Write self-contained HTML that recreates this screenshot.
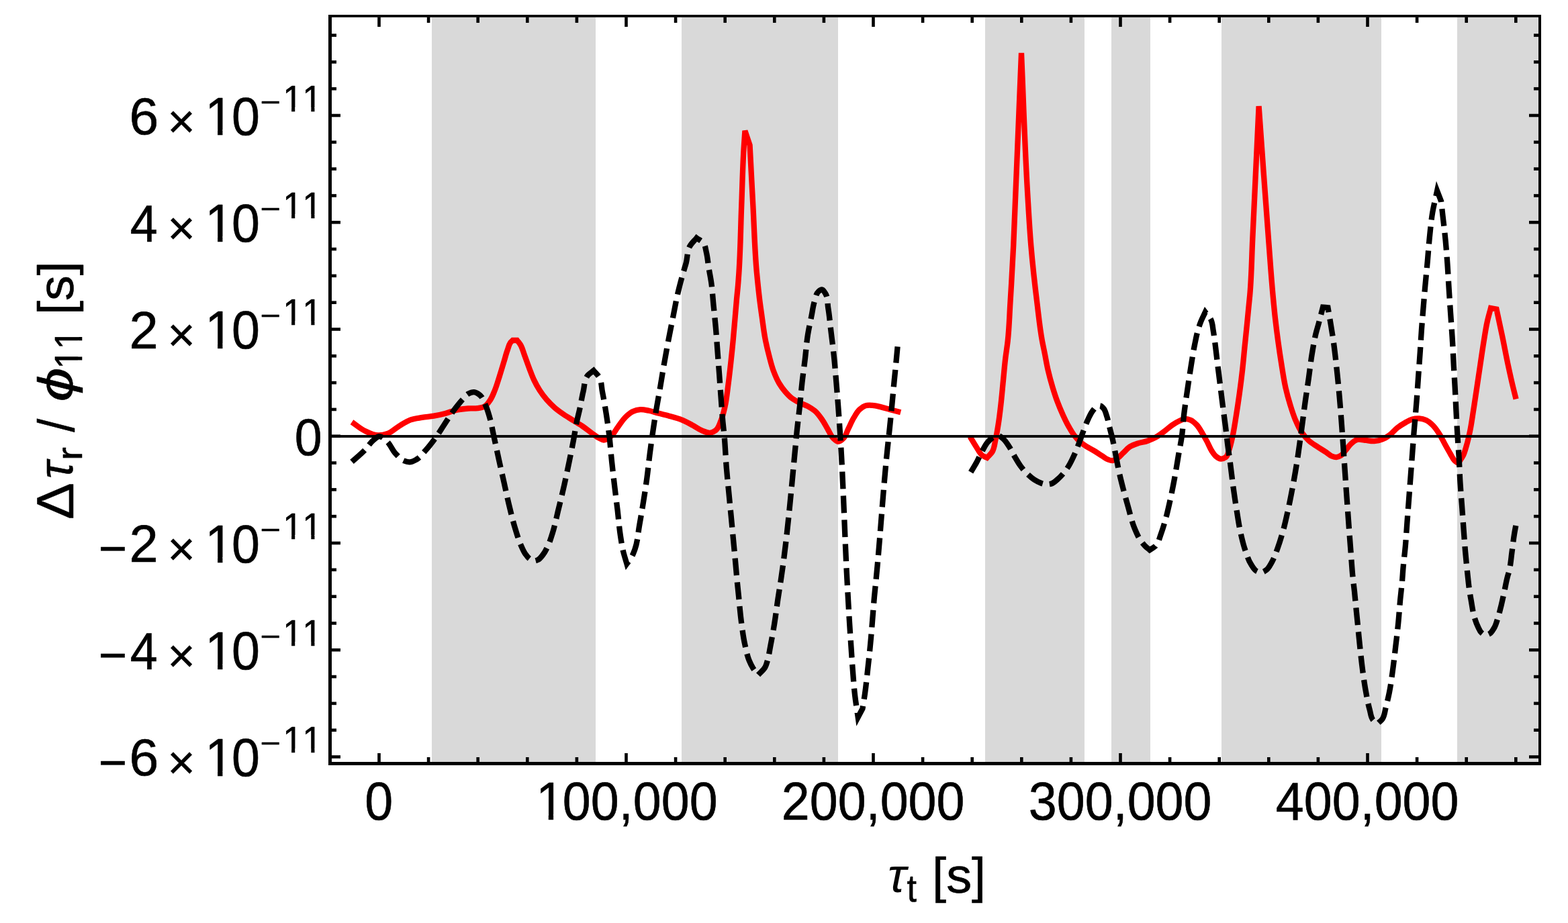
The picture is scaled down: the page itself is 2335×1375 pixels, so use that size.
<!DOCTYPE html>
<html lang="en"><head><meta charset="utf-8"><title>Plot</title>
<style>html,body{margin:0;padding:0;background:#fff}svg{display:block}text{font-family:"Liberation Sans",sans-serif;fill:#000;stroke:#000;stroke-linejoin:round;font-kerning:none;font-variant-ligatures:none}</style>
</head><body>
<svg width="2335" height="1375" viewBox="0 0 2335 1375">
<rect x="0" y="0" width="2335" height="1375" fill="#fff"/>
<g fill="#d9d9d9" shape-rendering="crispEdges">
<rect x="643.1" y="25.75" width="243.9" height="1109.25"/>
<rect x="1015.2" y="25.75" width="232.6" height="1109.25"/>
<rect x="1467.0" y="25.75" width="148.0" height="1109.25"/>
<rect x="1655.1" y="25.75" width="57.8" height="1109.25"/>
<rect x="1818.9" y="25.75" width="238.2" height="1109.25"/>
<rect x="2170.1" y="25.75" width="121.4" height="1109.25"/>
</g>
<g fill="none" stroke-linejoin="miter" stroke-linecap="butt">
<path d="M524.00 628.70C530.30 633.00 536.06 638.23 542.90 641.60C549.40 644.80 556.26 648.42 563.50 648.50C568.15 648.55 572.83 647.47 577.20 645.90C583.64 643.59 588.53 638.21 594.40 634.70C599.98 631.36 605.37 627.47 611.50 625.30C617.01 623.35 622.93 622.85 628.70 621.90C634.41 620.96 640.20 620.59 645.90 619.60C651.65 618.60 657.35 617.36 663.00 615.90C668.80 614.40 674.34 611.94 680.20 610.70C685.82 609.51 691.57 608.92 697.30 608.50C701.89 608.16 706.55 608.78 711.10 608.10C714.59 607.58 718.32 607.33 721.40 605.60C725.11 603.52 727.49 599.60 729.90 596.10C732.95 591.67 734.75 586.48 736.80 581.50C739.56 574.81 741.49 567.80 743.70 560.90C746.07 553.50 748.24 546.03 750.50 538.60C752.24 532.90 753.62 527.08 755.70 521.50C757.22 517.43 757.89 512.73 760.80 509.50C761.62 508.59 762.60 507.83 763.50 507.00C765.67 507.00 767.83 507.00 770.00 507.00C771.53 508.97 773.23 510.81 774.60 512.90C777.98 518.06 779.20 524.34 781.40 530.10C783.78 536.34 785.90 542.67 788.30 548.90C790.52 554.67 792.54 560.52 795.20 566.10C797.72 571.39 800.52 576.57 803.70 581.50C806.81 586.32 810.24 590.96 814.00 595.30C817.70 599.58 821.72 603.60 826.00 607.30C830.34 611.06 835.06 614.36 839.80 617.60C844.25 620.64 848.93 623.35 853.50 626.20C858.06 629.05 862.75 631.68 867.20 634.70C871.95 637.93 876.34 641.65 881.00 645.00C884.30 647.38 887.42 650.07 891.00 652.00C893.56 653.38 896.09 655.37 899.00 655.50C903.05 655.68 906.61 652.40 909.80 649.90C914.30 646.38 916.63 640.74 920.10 636.20C924.05 631.03 927.33 625.23 932.10 620.80C935.24 617.88 938.53 614.93 942.40 613.10C945.86 611.46 949.68 610.40 953.50 610.10C957.82 609.76 962.15 610.95 966.40 611.80C971.05 612.73 975.52 614.39 980.10 615.60C985.81 617.11 991.60 618.32 997.30 619.90C1003.04 621.49 1008.85 622.92 1014.40 625.10C1020.35 627.44 1025.96 630.58 1031.60 633.60C1036.23 636.08 1040.42 639.45 1045.30 641.40C1049.31 643.00 1053.53 645.46 1057.80 644.80C1060.75 644.34 1063.55 642.84 1065.90 641.00C1070.08 637.73 1071.41 631.88 1073.50 627.00C1076.37 620.31 1077.86 613.09 1079.50 606.00C1082.04 595.00 1083.01 583.69 1084.50 572.50C1085.93 561.72 1087.11 550.91 1088.30 540.10C1089.56 528.68 1090.72 517.24 1091.80 505.80C1092.88 494.37 1093.81 482.93 1094.80 471.50C1095.54 462.90 1096.21 454.30 1097.00 445.70C1097.63 438.80 1098.42 431.91 1099.00 425.00C1099.54 418.67 1099.97 412.34 1100.40 406.00C1102.63 373.15 1102.91 340.20 1104.20 307.30C1105.32 278.70 1105.86 250.07 1107.60 221.50C1108.14 212.63 1108.80 203.77 1109.40 194.90C1111.80 202.03 1114.20 209.17 1116.60 216.30C1118.20 246.63 1119.76 276.97 1121.40 307.30C1123.18 340.20 1123.85 373.19 1126.90 406.00C1127.49 412.34 1128.13 418.67 1128.80 425.00C1129.53 431.90 1130.26 438.81 1131.10 445.70C1132.15 454.31 1133.39 462.91 1134.60 471.50C1136.22 482.95 1137.47 494.46 1139.70 505.80C1141.40 514.43 1143.45 523.00 1145.70 531.50C1147.53 538.41 1149.20 545.40 1151.70 552.10C1154.11 558.59 1156.74 565.07 1160.30 571.00C1162.83 575.22 1165.71 579.25 1168.90 583.00C1172.04 586.70 1175.34 590.36 1179.20 593.30C1182.87 596.09 1187.07 598.15 1191.20 600.20C1195.09 602.13 1199.38 603.22 1203.20 605.30C1206.83 607.28 1210.38 609.49 1213.50 612.20C1217.54 615.70 1220.69 620.15 1223.80 624.50C1227.30 629.39 1229.89 634.86 1233.00 640.00C1235.63 644.35 1237.25 649.57 1241.00 653.00C1243.20 655.02 1245.51 657.88 1248.50 657.90C1251.58 657.92 1254.01 654.96 1256.20 652.80C1259.84 649.21 1260.81 643.67 1263.10 639.10C1265.98 633.37 1268.35 627.36 1271.70 621.90C1274.26 617.72 1276.54 613.16 1280.20 609.90C1282.74 607.64 1285.56 605.44 1288.80 604.40C1292.07 603.35 1295.67 603.71 1299.10 603.90C1303.16 604.13 1307.13 605.21 1311.10 606.10C1315.75 607.15 1320.29 608.66 1324.90 609.90C1330.32 611.36 1335.77 612.77 1341.20 614.20" stroke="#f00" stroke-width="8.3" stroke-miterlimit="3"/>
<path d="M1444.50 650.50C1447.77 655.83 1450.82 661.30 1454.30 666.50C1457.04 670.59 1458.91 675.62 1462.90 678.50C1464.98 680.00 1467.50 680.77 1469.80 681.90C1472.37 679.03 1475.46 676.56 1477.50 673.30C1480.96 667.77 1481.14 660.76 1482.60 654.40C1484.41 646.48 1485.66 638.43 1486.90 630.40C1488.31 621.30 1489.35 612.15 1490.40 603.00C1491.72 591.55 1492.67 580.07 1493.80 568.60C1494.93 557.17 1495.85 545.71 1497.20 534.30C1498.24 525.52 1499.72 516.79 1500.70 508.00C1502.79 489.28 1503.24 470.40 1504.40 451.60C1506.17 423.01 1507.82 394.41 1509.20 365.80C1510.45 339.87 1511.33 313.93 1512.40 288.00C1515.27 218.33 1518.13 148.67 1521.00 79.00C1524.07 148.67 1526.04 218.39 1530.20 288.00C1531.75 313.94 1533.11 339.90 1535.30 365.80C1537.73 394.46 1540.88 423.06 1544.40 451.60C1546.72 470.43 1548.52 489.35 1552.00 508.00C1553.11 513.92 1554.41 519.80 1555.60 525.70C1557.33 534.29 1558.71 542.96 1560.70 551.50C1562.71 560.14 1565.03 568.71 1567.60 577.20C1569.69 584.12 1571.88 591.02 1574.40 597.80C1577.00 604.77 1579.88 611.64 1583.00 618.40C1585.68 624.22 1588.44 630.03 1591.60 635.60C1594.26 640.29 1596.89 645.05 1600.20 649.30C1602.81 652.65 1605.58 655.93 1608.80 658.70C1611.43 660.96 1614.39 662.82 1617.30 664.70C1621.20 667.22 1625.43 669.20 1629.40 671.60C1633.47 674.06 1637.37 676.78 1641.40 679.30C1644.22 681.06 1646.80 683.30 1649.90 684.50C1652.11 685.36 1654.44 686.40 1656.80 686.20C1659.33 685.99 1661.55 684.34 1663.70 683.00C1667.02 680.93 1669.43 677.66 1672.30 675.00C1675.69 671.86 1678.61 668.10 1682.50 665.60C1686.19 663.23 1690.44 661.81 1694.60 660.40C1699.06 658.89 1703.84 658.51 1708.30 657.00C1712.42 655.61 1716.47 653.95 1720.30 651.90C1725.20 649.28 1729.53 645.70 1734.00 642.40C1738.09 639.38 1741.77 635.82 1746.00 633.00C1749.31 630.80 1752.68 628.64 1756.30 627.00C1759.08 625.74 1761.86 624.03 1764.90 623.90C1767.86 623.77 1770.82 624.84 1773.50 626.10C1776.83 627.67 1779.55 630.35 1782.10 633.00C1785.69 636.72 1788.00 641.49 1790.70 645.90C1793.10 649.82 1795.33 653.85 1797.50 657.90C1799.92 662.41 1801.56 667.35 1804.40 671.60C1806.44 674.66 1808.35 678.01 1811.30 680.20C1813.33 681.71 1815.57 683.42 1818.10 683.60C1820.62 683.78 1823.25 682.68 1825.30 681.20C1828.76 678.70 1829.03 673.51 1830.50 669.50C1832.64 663.68 1833.81 657.54 1835.20 651.50C1837.57 641.17 1839.00 630.66 1840.70 620.20C1842.56 608.79 1844.23 597.35 1845.80 585.90C1847.37 574.45 1848.81 562.98 1850.10 551.50C1851.38 540.08 1852.35 528.63 1853.50 517.20C1854.65 505.76 1855.86 494.34 1857.00 482.90C1857.85 474.34 1858.66 465.77 1859.50 457.20C1860.06 451.47 1860.68 445.74 1861.20 440.00C1863.72 412.08 1863.95 384.00 1865.30 356.00C1868.48 290.04 1871.50 224.07 1874.60 158.10C1879.40 224.07 1883.93 290.05 1889.00 356.00C1891.15 384.00 1893.00 412.03 1895.60 440.00C1896.67 451.44 1897.72 462.88 1899.00 474.30C1900.28 485.75 1901.74 497.18 1903.30 508.60C1904.87 520.09 1906.55 531.56 1908.40 543.00C1910.25 554.46 1911.83 565.98 1914.40 577.30C1916.37 585.95 1918.68 594.52 1921.30 603.00C1923.62 610.51 1925.92 618.07 1929.00 625.30C1931.76 631.79 1934.49 638.40 1938.50 644.20C1941.50 648.54 1944.90 652.66 1948.80 656.20C1952.44 659.51 1956.72 662.04 1960.80 664.80C1965.28 667.83 1970.00 670.50 1974.50 673.50C1977.43 675.46 1979.94 678.17 1983.20 679.50C1985.39 680.39 1987.74 681.34 1990.10 681.20C1992.52 681.06 1994.84 679.89 1996.90 678.60C1999.82 676.77 2001.54 673.50 2003.80 670.90C2006.73 667.52 2009.00 663.50 2012.40 660.60C2015.00 658.38 2017.70 655.89 2021.00 655.00C2024.29 654.11 2027.80 655.26 2031.20 655.50C2036.35 655.86 2041.45 657.48 2046.60 657.10C2050.68 656.80 2054.79 655.99 2058.60 654.50C2062.30 653.05 2065.67 650.81 2068.90 648.50C2073.35 645.31 2076.57 640.64 2080.90 637.30C2084.68 634.38 2088.73 631.82 2092.90 629.50C2096.24 627.65 2099.52 625.52 2103.20 624.50C2106.53 623.58 2110.06 623.16 2113.50 623.40C2117.03 623.64 2120.59 624.51 2123.80 626.00C2127.70 627.80 2130.95 630.87 2134.00 633.90C2137.77 637.64 2140.62 642.23 2143.50 646.70C2146.71 651.68 2149.12 657.13 2152.00 662.30C2154.56 666.89 2157.10 671.49 2159.80 676.00C2161.81 679.37 2163.18 683.27 2166.00 686.00C2167.63 687.58 2169.67 688.67 2171.50 690.00C2173.90 686.33 2176.73 682.92 2178.70 679.00C2181.07 674.28 2182.29 669.06 2183.80 664.00C2185.91 656.93 2187.49 649.72 2189.00 642.50C2191.14 632.28 2192.46 621.91 2194.10 611.60C2195.91 600.18 2197.58 588.74 2199.30 577.30C2201.02 565.87 2202.69 554.43 2204.40 543.00C2206.12 531.53 2207.72 520.04 2209.60 508.60C2211.20 498.88 2212.55 489.11 2214.70 479.50C2216.24 472.61 2218.23 465.83 2220.00 459.00C2222.83 459.50 2225.67 460.00 2228.50 460.50C2231.33 473.70 2234.25 486.88 2237.00 500.10C2239.97 514.38 2242.55 528.74 2245.60 543.00C2247.81 553.32 2250.05 563.63 2252.50 573.90C2254.13 580.75 2255.90 587.57 2257.60 594.40" stroke="#f00" stroke-width="8.3" stroke-miterlimit="3"/>
<path d="M524.00 687.90C530.30 682.20 536.96 676.88 542.90 670.80C547.72 665.87 551.16 659.54 556.60 655.30C559.05 653.39 561.32 650.57 564.40 650.20C568.71 649.68 572.15 654.24 575.50 657.00C581.50 661.95 583.80 670.30 589.20 675.90C592.86 679.70 596.36 684.11 601.20 686.20C603.91 687.37 606.85 688.37 609.80 688.30C613.46 688.21 616.90 686.28 620.10 684.50C625.77 681.35 629.56 675.61 633.90 670.80C638.81 665.36 643.27 659.51 647.60 653.60C652.47 646.95 656.73 639.87 661.30 633.00C665.87 626.13 670.10 619.04 675.00 612.40C679.35 606.51 683.84 600.69 688.80 595.30C691.53 592.33 693.77 588.65 697.30 586.70C699.92 585.25 702.91 583.89 705.90 584.10C709.10 584.33 711.99 586.40 714.50 588.40C719.10 592.06 720.68 598.44 723.10 603.80C726.07 610.39 727.98 617.43 729.90 624.40C732.08 632.32 733.37 640.47 735.10 648.50C737.70 660.53 740.25 672.58 742.90 684.60C745.42 696.04 748.04 707.47 750.60 718.90C753.17 730.37 755.52 741.88 758.30 753.30C761.23 765.36 764.09 777.46 767.80 789.30C770.15 796.80 772.34 804.40 775.50 811.60C777.56 816.28 779.43 821.14 782.40 825.30C784.39 828.09 786.38 831.06 789.20 833.00C790.80 834.10 792.48 835.32 794.40 835.60C796.71 835.93 799.12 834.96 801.20 833.90C804.10 832.43 806.04 829.51 808.10 827.00C811.83 822.46 814.28 816.96 816.70 811.60C819.20 806.07 820.88 800.19 822.70 794.40C826.24 783.16 828.50 771.55 831.30 760.10C834.24 748.12 837.18 736.13 839.90 724.10C842.61 712.10 845.12 700.05 847.60 688.00C849.95 676.58 852.30 665.16 854.40 653.70C855.85 645.81 856.90 637.86 858.50 630.00C859.95 622.89 861.86 615.89 863.40 608.80C865.27 600.23 866.53 591.52 868.60 583.00C870.56 574.92 869.99 565.31 875.40 559.00C877.79 556.21 881.13 554.40 884.00 552.10C886.87 555.53 890.43 558.49 892.60 562.40C896.00 568.54 895.55 576.12 896.90 583.00C899.13 594.39 901.11 605.83 902.90 617.30C904.50 627.57 905.95 637.88 907.20 648.20C908.80 661.43 909.69 674.74 911.10 688.00C912.44 700.61 913.91 713.21 915.40 725.80C916.75 737.24 918.25 748.66 919.60 760.10C921.09 772.69 921.98 785.37 923.90 797.90C925.13 805.93 926.30 814.00 928.20 821.90C929.66 827.97 931.67 833.90 933.40 839.90C935.67 836.77 938.26 833.85 940.20 830.50C942.38 826.73 943.90 822.59 945.40 818.50C949.61 807.00 950.04 794.45 952.20 782.40C954.34 770.42 956.39 758.42 958.30 746.40C960.11 734.98 961.86 723.56 963.40 712.10C965.01 700.09 966.15 688.02 967.70 676.00C968.90 666.72 970.17 657.46 971.50 648.20C973.14 636.75 974.84 625.31 976.70 613.90C978.57 602.44 980.74 591.04 982.70 579.60C984.75 567.61 986.61 555.58 988.70 543.60C990.90 530.98 993.20 518.38 995.60 505.80C997.78 494.35 1000.12 482.93 1002.40 471.50C1004.68 460.06 1006.65 448.56 1009.30 437.20C1010.64 431.44 1012.08 425.71 1013.60 420.00C1014.84 415.32 1016.17 410.66 1017.50 406.00C1018.90 401.12 1020.50 396.31 1021.80 391.40C1023.90 383.45 1023.11 374.54 1027.00 367.30C1029.59 362.47 1033.87 358.77 1037.30 354.50C1040.73 357.07 1045.06 358.75 1047.60 362.20C1050.44 366.06 1050.74 371.26 1051.90 375.90C1053.72 383.20 1054.09 390.78 1055.30 398.20C1056.49 405.48 1058.04 412.70 1059.10 420.00C1060.75 431.37 1061.37 442.87 1062.50 454.30C1063.63 465.73 1064.90 477.15 1065.90 488.60C1066.90 500.06 1067.63 511.53 1068.50 523.00C1069.37 534.43 1070.25 545.87 1071.10 557.30C1071.95 568.73 1072.75 580.17 1073.60 591.60C1074.45 603.03 1075.17 614.48 1076.20 625.90C1076.98 634.51 1078.04 643.09 1078.80 651.70C1080.12 666.64 1080.57 681.65 1081.80 696.60C1082.79 708.65 1084.05 720.67 1085.20 732.70C1086.35 744.70 1087.55 756.70 1088.70 768.70C1089.85 780.70 1090.97 792.70 1092.10 804.70C1093.23 816.73 1094.41 828.76 1095.50 840.80C1096.18 848.33 1096.79 855.87 1097.50 863.40C1098.31 872.01 1099.23 880.60 1100.10 889.20C1101.32 901.20 1102.24 913.24 1103.80 925.20C1105.37 937.25 1106.84 949.35 1109.50 961.20C1111.19 968.74 1112.56 976.45 1115.50 983.60C1117.20 987.74 1119.13 991.81 1121.50 995.60C1123.70 999.11 1126.50 1002.20 1129.00 1005.50C1132.50 1001.60 1137.02 998.42 1139.50 993.80C1141.20 990.63 1141.98 987.05 1143.00 983.60C1144.98 976.88 1145.87 969.88 1147.20 963.00C1149.42 951.57 1151.46 940.10 1153.30 928.60C1155.21 916.63 1156.60 904.59 1158.40 892.60C1159.78 883.42 1161.32 874.27 1162.70 865.10C1172.44 800.37 1177.80 735.05 1184.10 669.90C1184.98 660.77 1185.76 651.63 1186.70 642.50C1188.00 629.89 1189.66 617.31 1191.00 604.70C1192.21 593.27 1193.12 581.82 1194.40 570.40C1195.68 558.95 1197.33 547.54 1198.70 536.10C1200.21 523.51 1200.97 510.82 1203.00 498.30C1204.46 489.31 1206.47 480.42 1208.30 471.50C1209.98 463.32 1210.83 454.91 1213.50 447.00C1214.94 442.74 1215.22 437.48 1218.60 434.50C1220.10 433.18 1221.80 431.39 1223.80 431.50C1226.32 431.64 1227.54 434.94 1229.00 437.00C1233.21 442.96 1232.00 451.30 1233.20 458.50C1235.15 470.19 1236.08 482.03 1237.50 493.80C1238.95 505.80 1240.54 517.78 1241.80 529.80C1243.12 542.38 1244.13 554.99 1245.20 567.60C1246.26 580.16 1247.26 592.73 1248.20 605.30C1249.27 619.59 1250.25 633.90 1251.20 648.20C1255.94 719.86 1257.52 791.69 1261.40 863.40C1261.96 873.70 1262.52 884.00 1263.10 894.30C1263.75 905.73 1264.38 917.17 1265.10 928.60C1265.82 940.07 1266.62 951.53 1267.40 963.00C1268.22 975.00 1268.97 987.01 1269.90 999.00C1270.83 1011.01 1271.64 1023.03 1273.00 1035.00C1274.28 1046.20 1276.13 1057.33 1277.70 1068.50C1279.97 1064.20 1282.23 1059.90 1284.50 1055.60C1285.67 1048.17 1286.95 1040.75 1288.00 1033.30C1289.69 1021.34 1290.87 1009.31 1292.20 997.30C1293.53 985.27 1294.85 973.24 1296.00 961.20C1297.15 949.21 1298.10 937.20 1299.10 925.20C1300.10 913.20 1300.89 901.19 1302.00 889.20C1302.79 880.59 1303.75 872.00 1304.60 863.40C1310.99 798.97 1314.68 734.29 1321.40 669.90C1322.53 659.03 1323.78 648.17 1324.90 637.30C1326.08 625.87 1327.19 614.44 1328.30 603.00C1329.46 591.00 1330.52 579.00 1331.70 567.00C1332.54 558.40 1333.47 549.80 1334.30 541.20C1335.10 532.90 1335.83 524.60 1336.60 516.30" stroke="#000" stroke-width="8.3" stroke-dasharray="25.736 10.214" stroke-miterlimit="6"/>
<path d="M1445.70 703.30C1448.57 698.47 1451.60 693.73 1454.30 688.80C1457.38 683.18 1459.74 677.17 1462.90 671.60C1465.56 666.91 1467.79 661.81 1471.50 657.90C1474.03 655.23 1476.73 652.47 1480.10 651.00C1482.24 650.06 1484.58 649.01 1486.90 649.30C1489.59 649.64 1491.70 651.88 1493.80 653.60C1497.42 656.57 1499.79 660.82 1502.40 664.70C1505.70 669.60 1508.00 675.11 1511.00 680.20C1513.73 684.83 1516.32 689.57 1519.50 693.90C1522.62 698.15 1526.02 702.22 1529.80 705.90C1533.01 709.02 1536.34 712.08 1540.10 714.50C1543.33 716.59 1546.76 718.46 1550.40 719.70C1552.64 720.46 1554.94 721.20 1557.30 721.40C1560.17 721.65 1563.18 721.45 1565.90 720.50C1569.17 719.36 1571.73 716.72 1574.40 714.50C1577.52 711.91 1580.35 708.97 1583.00 705.90C1586.21 702.17 1589.01 698.09 1591.60 693.90C1594.97 688.45 1597.59 682.55 1600.20 676.70C1602.70 671.10 1604.81 665.33 1607.00 659.60C1609.39 653.33 1611.49 646.96 1613.90 640.70C1616.11 634.96 1618.09 629.12 1620.80 623.60C1622.84 619.45 1624.65 615.06 1627.60 611.50C1629.62 609.07 1631.53 606.08 1634.50 605.00C1635.59 604.60 1636.75 604.21 1637.90 604.30C1640.04 604.48 1641.61 606.55 1643.10 608.10C1646.11 611.24 1646.77 616.00 1648.20 620.10C1650.15 625.68 1651.06 631.57 1652.50 637.30C1653.93 643.00 1655.48 648.67 1656.80 654.40C1658.87 663.37 1660.39 672.47 1662.20 681.50C1663.83 689.63 1665.28 697.81 1667.10 705.90C1668.69 712.97 1670.49 719.99 1672.30 727.00C1674.57 735.80 1677.01 744.56 1679.50 753.30C1682.77 764.78 1685.13 776.62 1689.80 787.60C1692.29 793.46 1694.72 799.44 1698.30 804.70C1700.37 807.74 1702.63 810.67 1705.20 813.30C1707.33 815.48 1709.80 817.30 1712.10 819.30C1714.97 817.30 1718.24 815.78 1720.70 813.30C1725.57 808.40 1726.73 800.85 1729.20 794.40C1731.98 787.13 1734.02 779.60 1736.10 772.10C1738.76 762.49 1740.87 752.74 1743.00 743.00C1745.50 731.58 1747.70 720.10 1749.80 708.60C1751.67 698.36 1753.24 688.06 1755.00 677.80C1756.67 668.06 1758.77 658.39 1760.10 648.60C1761.46 638.61 1761.84 628.51 1763.00 618.50C1764.39 606.43 1766.26 594.42 1768.00 582.40C1769.79 570.09 1771.61 557.78 1773.60 545.50C1775.37 534.62 1776.97 523.70 1779.20 512.90C1780.78 505.23 1782.20 497.49 1784.50 490.00C1785.69 486.12 1786.99 482.27 1788.50 478.50C1790.34 473.89 1792.70 469.50 1794.80 465.00C1797.67 468.83 1801.36 472.17 1803.40 476.50C1805.79 481.58 1805.83 487.47 1806.80 493.00C1807.91 499.33 1808.65 505.73 1809.50 512.10C1810.87 522.38 1811.94 532.70 1813.20 543.00C1814.60 554.44 1816.07 565.87 1817.50 577.30C1818.64 586.43 1819.73 595.57 1820.90 604.70C1822.29 615.57 1823.84 626.42 1825.20 637.30C1826.25 645.69 1827.13 654.11 1828.20 662.50C1829.44 672.18 1830.92 681.83 1832.20 691.50C1833.71 702.92 1834.94 714.38 1836.50 725.80C1838.07 737.25 1839.75 748.69 1841.60 760.10C1843.45 771.56 1845.03 783.08 1847.60 794.40C1849.57 803.08 1851.58 811.79 1854.50 820.20C1856.94 827.23 1859.00 834.59 1863.10 840.80C1865.56 844.53 1867.69 849.12 1871.70 851.10C1873.80 852.13 1876.17 853.01 1878.50 852.80C1881.05 852.57 1883.32 850.90 1885.40 849.40C1889.41 846.50 1891.51 841.57 1894.00 837.30C1897.73 830.91 1899.94 823.74 1902.50 816.80C1905.83 807.79 1908.55 798.56 1911.10 789.30C1913.75 779.66 1915.85 769.87 1918.00 760.10C1920.51 748.71 1922.75 737.26 1924.90 725.80C1927.04 714.39 1929.07 702.96 1930.90 691.50C1932.57 681.02 1934.03 670.51 1935.50 660.00C1936.53 652.67 1937.51 645.34 1938.50 638.00C1940.25 625.01 1941.80 611.99 1943.60 599.00C1945.25 587.15 1947.12 575.34 1948.80 563.50C1950.55 551.17 1951.85 538.78 1953.90 526.50C1955.54 516.63 1957.10 506.72 1959.50 497.00C1960.78 491.79 1962.40 486.68 1963.80 481.50C1965.94 473.59 1967.93 465.63 1970.00 457.70C1972.50 457.90 1975.00 458.10 1977.50 458.30C1978.93 466.73 1980.42 475.16 1981.80 483.60C1983.26 492.56 1984.74 501.51 1986.00 510.50C1987.51 521.31 1988.69 532.16 1989.90 543.00C1991.17 554.42 1992.32 565.86 1993.40 577.30C1994.33 587.19 1995.19 597.10 1996.00 607.00C1996.90 617.99 1997.69 629.00 1998.50 640.00C1999.11 648.33 1999.72 656.67 2000.30 665.00C2000.88 673.33 2001.43 681.67 2002.00 690.00C2002.73 700.67 2003.45 711.33 2004.20 722.00C2005.01 733.50 2005.87 745.00 2006.70 756.50C2007.53 768.00 2008.34 779.50 2009.20 791.00C2010.04 802.34 2010.92 813.67 2011.80 825.00C2012.69 836.50 2013.33 848.02 2014.50 859.50C2015.23 866.68 2016.24 873.83 2017.00 881.00C2017.77 888.29 2018.38 895.60 2019.10 902.90C2019.94 911.47 2020.84 920.03 2021.70 928.60C2022.85 940.07 2023.88 951.54 2025.10 963.00C2026.32 974.44 2027.49 985.89 2029.00 997.30C2030.52 1008.76 2032.08 1020.23 2034.20 1031.60C2035.81 1040.21 2037.31 1048.87 2039.70 1057.30C2041.19 1062.53 2041.19 1068.73 2044.80 1072.80C2046.70 1074.94 2049.40 1076.20 2051.70 1077.90C2054.00 1075.63 2056.73 1073.73 2058.60 1071.10C2062.06 1066.22 2062.15 1059.68 2063.70 1053.90C2065.68 1046.53 2067.40 1039.08 2068.90 1031.60C2070.94 1021.38 2072.25 1011.02 2073.70 1000.70C2075.46 988.16 2076.82 975.57 2078.30 963.00C2079.65 951.54 2081.06 940.08 2082.20 928.60C2083.33 917.18 2084.02 905.72 2085.10 894.30C2086.02 884.56 2087.28 874.85 2088.10 865.10C2088.60 859.17 2088.91 853.23 2089.40 847.30C2090.35 835.85 2091.90 824.45 2092.90 813.00C2093.90 801.58 2094.55 790.13 2095.40 778.70C2096.25 767.27 2097.13 755.83 2098.00 744.40C2098.87 732.97 2099.73 721.53 2100.60 710.10C2101.47 698.63 2102.34 687.17 2103.20 675.70C2103.97 665.47 2104.69 655.23 2105.50 645.00C2106.74 629.33 2108.29 613.68 2109.50 598.00C2110.48 585.34 2111.29 572.67 2112.20 560.00C2113.06 548.00 2113.98 536.00 2114.80 524.00C2115.57 512.67 2116.17 501.33 2117.00 490.00C2117.76 479.66 2118.64 469.33 2119.50 459.00C2120.44 447.66 2121.38 436.33 2122.40 425.00C2123.48 412.99 2124.72 401.00 2125.80 389.00C2126.88 377.00 2127.67 364.98 2128.90 353.00C2130.14 340.94 2131.20 328.85 2133.20 316.90C2135.03 305.94 2137.80 295.17 2140.10 284.30C2142.10 289.47 2144.10 294.63 2146.10 299.80C2146.93 307.23 2147.77 314.67 2148.60 322.10C2149.94 334.10 2151.45 346.08 2152.60 358.10C2153.75 370.08 2154.65 382.09 2155.50 394.10C2156.35 406.13 2156.93 418.17 2157.70 430.20C2158.47 442.20 2159.30 454.20 2160.10 466.20C2161.13 481.50 2162.32 496.79 2163.20 512.10C2163.85 523.53 2164.28 534.97 2164.90 546.40C2165.46 556.70 2166.14 567.00 2166.70 577.30C2167.32 588.73 2167.81 600.17 2168.40 611.60C2169.01 623.40 2169.58 635.21 2170.30 647.00C2171.01 658.67 2172.03 670.33 2172.70 682.00C2173.40 694.19 2173.65 706.41 2174.40 718.60C2175.11 730.08 2176.15 741.53 2177.00 753.00C2177.85 764.43 2178.65 775.87 2179.50 787.30C2180.35 798.73 2181.10 810.18 2182.10 821.60C2183.10 833.05 2184.27 844.48 2185.50 855.90C2186.29 863.27 2186.95 870.66 2188.00 878.00C2188.78 883.45 2189.74 888.88 2190.70 894.30C2192.24 902.93 2193.19 911.73 2195.80 920.10C2197.26 924.76 2198.82 929.43 2201.00 933.80C2202.50 936.81 2203.63 940.22 2206.10 942.50C2207.61 943.89 2209.28 945.42 2211.30 945.80C2213.60 946.24 2216.04 945.21 2218.10 944.10C2221.33 942.35 2223.10 938.65 2225.00 935.50C2227.52 931.31 2228.66 926.44 2230.20 921.80C2232.25 915.61 2233.73 909.23 2235.30 902.90C2237.23 895.15 2238.79 887.31 2240.50 879.50C2241.92 873.00 2243.02 866.43 2244.70 860.00C2245.50 856.92 2246.53 853.89 2247.30 850.80C2249.68 841.25 2250.24 831.34 2251.60 821.60C2252.79 813.04 2253.61 804.43 2255.00 795.90C2255.70 791.59 2256.53 787.30 2257.30 783.00" stroke="#000" stroke-width="8.3" stroke-dasharray="25.776 10.230" stroke-miterlimit="6"/>
</g>
<rect x="494.0" y="648.05" width="1797.0" height="3.9" fill="#000"/>
<g fill="#000">
<rect x="489" y="22" width="5" height="1118"/>
<rect x="2291" y="22" width="4" height="1118"/>
<rect x="489" y="22" width="1806" height="3.75"/>
<rect x="489" y="1135" width="1806" height="5"/>
<rect x="562.20" y="25.25" width="4.60" height="14.70"/>
<rect x="562.20" y="1122.00" width="4.60" height="13.50"/>
<rect x="635.80" y="25.25" width="4.60" height="8.70"/>
<rect x="635.80" y="1128.00" width="4.60" height="7.50"/>
<rect x="709.40" y="25.25" width="4.60" height="8.70"/>
<rect x="709.40" y="1128.00" width="4.60" height="7.50"/>
<rect x="783.00" y="25.25" width="4.60" height="8.70"/>
<rect x="783.00" y="1128.00" width="4.60" height="7.50"/>
<rect x="856.60" y="25.25" width="4.60" height="8.70"/>
<rect x="856.60" y="1128.00" width="4.60" height="7.50"/>
<rect x="930.20" y="25.25" width="4.60" height="14.70"/>
<rect x="930.20" y="1122.00" width="4.60" height="13.50"/>
<rect x="1003.80" y="25.25" width="4.60" height="8.70"/>
<rect x="1003.80" y="1128.00" width="4.60" height="7.50"/>
<rect x="1077.40" y="25.25" width="4.60" height="8.70"/>
<rect x="1077.40" y="1128.00" width="4.60" height="7.50"/>
<rect x="1151.00" y="25.25" width="4.60" height="8.70"/>
<rect x="1151.00" y="1128.00" width="4.60" height="7.50"/>
<rect x="1224.60" y="25.25" width="4.60" height="8.70"/>
<rect x="1224.60" y="1128.00" width="4.60" height="7.50"/>
<rect x="1298.20" y="25.25" width="4.60" height="14.70"/>
<rect x="1298.20" y="1122.00" width="4.60" height="13.50"/>
<rect x="1371.80" y="25.25" width="4.60" height="8.70"/>
<rect x="1371.80" y="1128.00" width="4.60" height="7.50"/>
<rect x="1445.40" y="25.25" width="4.60" height="8.70"/>
<rect x="1445.40" y="1128.00" width="4.60" height="7.50"/>
<rect x="1519.00" y="25.25" width="4.60" height="8.70"/>
<rect x="1519.00" y="1128.00" width="4.60" height="7.50"/>
<rect x="1592.60" y="25.25" width="4.60" height="8.70"/>
<rect x="1592.60" y="1128.00" width="4.60" height="7.50"/>
<rect x="1666.20" y="25.25" width="4.60" height="14.70"/>
<rect x="1666.20" y="1122.00" width="4.60" height="13.50"/>
<rect x="1739.80" y="25.25" width="4.60" height="8.70"/>
<rect x="1739.80" y="1128.00" width="4.60" height="7.50"/>
<rect x="1813.40" y="25.25" width="4.60" height="8.70"/>
<rect x="1813.40" y="1128.00" width="4.60" height="7.50"/>
<rect x="1887.00" y="25.25" width="4.60" height="8.70"/>
<rect x="1887.00" y="1128.00" width="4.60" height="7.50"/>
<rect x="1960.60" y="25.25" width="4.60" height="8.70"/>
<rect x="1960.60" y="1128.00" width="4.60" height="7.50"/>
<rect x="2034.20" y="25.25" width="4.60" height="14.70"/>
<rect x="2034.20" y="1122.00" width="4.60" height="13.50"/>
<rect x="2107.80" y="25.25" width="4.60" height="8.70"/>
<rect x="2107.80" y="1128.00" width="4.60" height="7.50"/>
<rect x="2181.40" y="25.25" width="4.60" height="8.70"/>
<rect x="2181.40" y="1128.00" width="4.60" height="7.50"/>
<rect x="2255.00" y="25.25" width="4.60" height="8.70"/>
<rect x="2255.00" y="1128.00" width="4.60" height="7.50"/>
<rect x="493.50" y="50.26" width="7.50" height="4.60"/>
<rect x="2284.00" y="50.26" width="7.50" height="4.60"/>
<rect x="493.50" y="90.08" width="7.50" height="4.60"/>
<rect x="2284.00" y="90.08" width="7.50" height="4.60"/>
<rect x="493.50" y="129.89" width="7.50" height="4.60"/>
<rect x="2284.00" y="129.89" width="7.50" height="4.60"/>
<rect x="493.50" y="169.70" width="13.50" height="4.60"/>
<rect x="2277.00" y="169.70" width="14.50" height="4.60"/>
<rect x="493.50" y="209.51" width="7.50" height="4.60"/>
<rect x="2284.00" y="209.51" width="7.50" height="4.60"/>
<rect x="493.50" y="249.32" width="7.50" height="4.60"/>
<rect x="2284.00" y="249.32" width="7.50" height="4.60"/>
<rect x="493.50" y="289.14" width="7.50" height="4.60"/>
<rect x="2284.00" y="289.14" width="7.50" height="4.60"/>
<rect x="493.50" y="328.95" width="13.50" height="4.60"/>
<rect x="2277.00" y="328.95" width="14.50" height="4.60"/>
<rect x="493.50" y="368.76" width="7.50" height="4.60"/>
<rect x="2284.00" y="368.76" width="7.50" height="4.60"/>
<rect x="493.50" y="408.57" width="7.50" height="4.60"/>
<rect x="2284.00" y="408.57" width="7.50" height="4.60"/>
<rect x="493.50" y="448.39" width="7.50" height="4.60"/>
<rect x="2284.00" y="448.39" width="7.50" height="4.60"/>
<rect x="493.50" y="488.20" width="13.50" height="4.60"/>
<rect x="2277.00" y="488.20" width="14.50" height="4.60"/>
<rect x="493.50" y="528.01" width="7.50" height="4.60"/>
<rect x="2284.00" y="528.01" width="7.50" height="4.60"/>
<rect x="493.50" y="567.83" width="7.50" height="4.60"/>
<rect x="2284.00" y="567.83" width="7.50" height="4.60"/>
<rect x="493.50" y="607.64" width="7.50" height="4.60"/>
<rect x="2284.00" y="607.64" width="7.50" height="4.60"/>
<rect x="493.50" y="647.45" width="13.50" height="4.60"/>
<rect x="2277.00" y="647.45" width="14.50" height="4.60"/>
<rect x="493.50" y="687.26" width="7.50" height="4.60"/>
<rect x="2284.00" y="687.26" width="7.50" height="4.60"/>
<rect x="493.50" y="727.08" width="7.50" height="4.60"/>
<rect x="2284.00" y="727.08" width="7.50" height="4.60"/>
<rect x="493.50" y="766.89" width="7.50" height="4.60"/>
<rect x="2284.00" y="766.89" width="7.50" height="4.60"/>
<rect x="493.50" y="806.70" width="13.50" height="4.60"/>
<rect x="2277.00" y="806.70" width="14.50" height="4.60"/>
<rect x="493.50" y="846.51" width="7.50" height="4.60"/>
<rect x="2284.00" y="846.51" width="7.50" height="4.60"/>
<rect x="493.50" y="886.33" width="7.50" height="4.60"/>
<rect x="2284.00" y="886.33" width="7.50" height="4.60"/>
<rect x="493.50" y="926.14" width="7.50" height="4.60"/>
<rect x="2284.00" y="926.14" width="7.50" height="4.60"/>
<rect x="493.50" y="965.95" width="13.50" height="4.60"/>
<rect x="2277.00" y="965.95" width="14.50" height="4.60"/>
<rect x="493.50" y="1005.76" width="7.50" height="4.60"/>
<rect x="2284.00" y="1005.76" width="7.50" height="4.60"/>
<rect x="493.50" y="1045.58" width="7.50" height="4.60"/>
<rect x="2284.00" y="1045.58" width="7.50" height="4.60"/>
<rect x="493.50" y="1085.39" width="7.50" height="4.60"/>
<rect x="2284.00" y="1085.39" width="7.50" height="4.60"/>
<rect x="493.50" y="1125.20" width="13.50" height="4.60"/>
<rect x="2277.00" y="1125.20" width="14.50" height="4.60"/>
</g>
<defs><clipPath id="c0"><rect x="-2000" y="-300" width="5000" height="290.2"/><rect x="-2000" y="2.6" width="5000" height="300"/><rect x="27.80" y="-10.2" width="9.70" height="13.2"/><rect x="56.02" y="-10.2" width="75.22" height="13.2"/></clipPath><clipPath id="c1"><rect x="-2000" y="-300" width="5000" height="290.2"/><rect x="-2000" y="2.6" width="5000" height="300"/><rect x="27.80" y="-10.2" width="9.70" height="13.2"/><rect x="83.42" y="-10.2" width="9.70" height="13.2"/></clipPath><clipPath id="c2"><rect x="-2000" y="-300" width="5000" height="290.2"/><rect x="-2000" y="2.6" width="5000" height="300"/><rect x="27.80" y="-10.2" width="9.70" height="13.2"/><rect x="56.02" y="-10.2" width="325.46" height="13.2"/></clipPath></defs>
<g>
<text transform="matrix(0.78669 0.00000 0.00000 0.77965 192.405 199.939)" font-size="100" stroke-width="0.77">6</text>
<text transform="matrix(0.70435 0.00000 0.00000 0.71030 249.416 204.604)" font-size="100" stroke-width="0.85">×</text>
<text transform="matrix(0.75450 0.00000 0.00000 0.79300 303.140 200.900)" font-size="100" dx="3.08 -3.08" clip-path="url(#c0)" stroke-width="0.78">10</text>
<text transform="matrix(0.52486 0.00000 0.00000 0.43485 387.612 166.510)" font-size="100" stroke-width="1.25">−</text>
<text transform="matrix(0.52500 0.00000 0.00000 0.56100 419.540 165.500)" font-size="100" dx="3.08 0" clip-path="url(#c1)" stroke-width="1.10">11</text>
<text transform="matrix(0.73823 0.00000 0.00000 0.77618 193.806 359.650)" font-size="100" stroke-width="0.79">4</text>
<text transform="matrix(0.70435 0.00000 0.00000 0.71030 249.416 363.854)" font-size="100" stroke-width="0.85">×</text>
<text transform="matrix(0.75450 0.00000 0.00000 0.79300 303.140 360.150)" font-size="100" dx="3.08 -3.08" clip-path="url(#c0)" stroke-width="0.78">10</text>
<text transform="matrix(0.52486 0.00000 0.00000 0.43485 387.612 325.760)" font-size="100" stroke-width="1.25">−</text>
<text transform="matrix(0.52500 0.00000 0.00000 0.56100 419.540 324.750)" font-size="100" dx="3.08 0" clip-path="url(#c1)" stroke-width="1.10">11</text>
<text transform="matrix(0.77705 0.00000 0.00000 0.77480 192.392 518.900)" font-size="100" stroke-width="0.77">2</text>
<text transform="matrix(0.70435 0.00000 0.00000 0.71030 249.416 523.104)" font-size="100" stroke-width="0.85">×</text>
<text transform="matrix(0.75450 0.00000 0.00000 0.79300 303.140 519.400)" font-size="100" dx="3.08 -3.08" clip-path="url(#c0)" stroke-width="0.78">10</text>
<text transform="matrix(0.52486 0.00000 0.00000 0.43485 387.612 485.010)" font-size="100" stroke-width="1.25">−</text>
<text transform="matrix(0.52500 0.00000 0.00000 0.56100 419.540 484.000)" font-size="100" dx="3.08 0" clip-path="url(#c1)" stroke-width="1.10">11</text>
<text transform="matrix(0.73427 0.00000 0.00000 0.78106 438.632 677.787)" font-size="100" stroke-width="0.79">0</text>
<text transform="matrix(0.72658 0.00000 0.00000 0.72942 146.817 842.155)" font-size="100" stroke-width="0.82">−</text>
<text transform="matrix(0.77705 0.00000 0.00000 0.77480 192.392 837.400)" font-size="100" stroke-width="0.77">2</text>
<text transform="matrix(0.70435 0.00000 0.00000 0.71030 249.416 841.604)" font-size="100" stroke-width="0.85">×</text>
<text transform="matrix(0.75450 0.00000 0.00000 0.79300 303.140 837.900)" font-size="100" dx="3.08 -3.08" clip-path="url(#c0)" stroke-width="0.78">10</text>
<text transform="matrix(0.52486 0.00000 0.00000 0.43485 387.612 803.510)" font-size="100" stroke-width="1.25">−</text>
<text transform="matrix(0.52500 0.00000 0.00000 0.56100 419.540 802.500)" font-size="100" dx="3.08 0" clip-path="url(#c1)" stroke-width="1.10">11</text>
<text transform="matrix(0.72658 0.00000 0.00000 0.72942 146.817 1001.405)" font-size="100" stroke-width="0.82">−</text>
<text transform="matrix(0.73823 0.00000 0.00000 0.77618 193.806 996.650)" font-size="100" stroke-width="0.79">4</text>
<text transform="matrix(0.70435 0.00000 0.00000 0.71030 249.416 1000.854)" font-size="100" stroke-width="0.85">×</text>
<text transform="matrix(0.75450 0.00000 0.00000 0.79300 303.140 997.150)" font-size="100" dx="3.08 -3.08" clip-path="url(#c0)" stroke-width="0.78">10</text>
<text transform="matrix(0.52486 0.00000 0.00000 0.43485 387.612 962.760)" font-size="100" stroke-width="1.25">−</text>
<text transform="matrix(0.52500 0.00000 0.00000 0.56100 419.540 961.750)" font-size="100" dx="3.08 0" clip-path="url(#c1)" stroke-width="1.10">11</text>
<text transform="matrix(0.72658 0.00000 0.00000 0.72942 146.817 1160.655)" font-size="100" stroke-width="0.82">−</text>
<text transform="matrix(0.78669 0.00000 0.00000 0.77965 192.405 1155.439)" font-size="100" stroke-width="0.77">6</text>
<text transform="matrix(0.70435 0.00000 0.00000 0.71030 249.416 1160.104)" font-size="100" stroke-width="0.85">×</text>
<text transform="matrix(0.75450 0.00000 0.00000 0.79300 303.140 1156.400)" font-size="100" dx="3.08 -3.08" clip-path="url(#c0)" stroke-width="0.78">10</text>
<text transform="matrix(0.52486 0.00000 0.00000 0.43485 387.612 1122.010)" font-size="100" stroke-width="1.25">−</text>
<text transform="matrix(0.52500 0.00000 0.00000 0.56100 419.540 1121.000)" font-size="100" dx="3.08 0" clip-path="url(#c1)" stroke-width="1.10">11</text>
<text transform="matrix(0.75450 0.00000 0.00000 0.79000 543.219 1221.000)" font-size="100" stroke-width="0.78">0</text>
<text transform="matrix(0.75450 0.00000 0.00000 0.79000 795.834 1221.000)" font-size="100" dx="3.08 -3.08 0 0 0 0 0" clip-path="url(#c2)" stroke-width="0.78">100,000</text>
<text transform="matrix(0.75450 0.00000 0.00000 0.79000 1163.834 1221.000)" font-size="100" stroke-width="0.78">200,000</text>
<text transform="matrix(0.75450 0.00000 0.00000 0.79000 1531.834 1221.000)" font-size="100" stroke-width="0.78">300,000</text>
<text transform="matrix(0.75450 0.00000 0.00000 0.79000 1899.834 1221.000)" font-size="100" stroke-width="0.78">400,000</text>
<text transform="matrix(0.73327 0.00000 0.00000 0.72851 1322.015 1329.389)" font-size="100" font-style="italic" stroke-width="0.00">τ</text>
<text transform="matrix(0.52081 0.00000 0.00000 0.56702 1350.612 1343.057)" font-size="100" stroke-width="1.10">t</text>
<text transform="matrix(0.75896 0.00000 0.00000 0.74346 1388.089 1329.572)" font-size="100" stroke-width="0.80">[s]</text>
<text transform="matrix(0.00000 -0.82413 0.77182 0.00000 108.500 773.955)" font-size="100" stroke-width="0.75">Δ</text>
<text transform="matrix(0.00000 -0.69210 0.71364 0.00000 108.303 713.035)" font-size="100" font-style="italic" stroke-width="0.85">τ</text>
<text transform="matrix(0.00000 -0.60000 0.53523 0.00000 121.800 685.884)" font-size="100" stroke-width="1.06">r</text>
<text transform="matrix(0.00000 -0.71986 0.75166 0.00000 109.866 643.700)" font-size="100" stroke-width="0.82">/</text>
<text transform="matrix(0.00000 -0.92129 0.72951 0.00000 108.261 598.469)" font-size="100" font-style="italic" stroke-width="0.73">ϕ</text>
<text transform="matrix(0.00000 -0.52800 0.56600 0.00000 121.900 551.200)" font-size="100" dx="3.08 0" clip-path="url(#c1)" stroke-width="1.10">11</text>
<text transform="matrix(0.00000 -0.75404 0.74239 0.00000 108.594 468.875)" font-size="100" stroke-width="0.80">[s]</text>
</g>
</svg></body></html>
